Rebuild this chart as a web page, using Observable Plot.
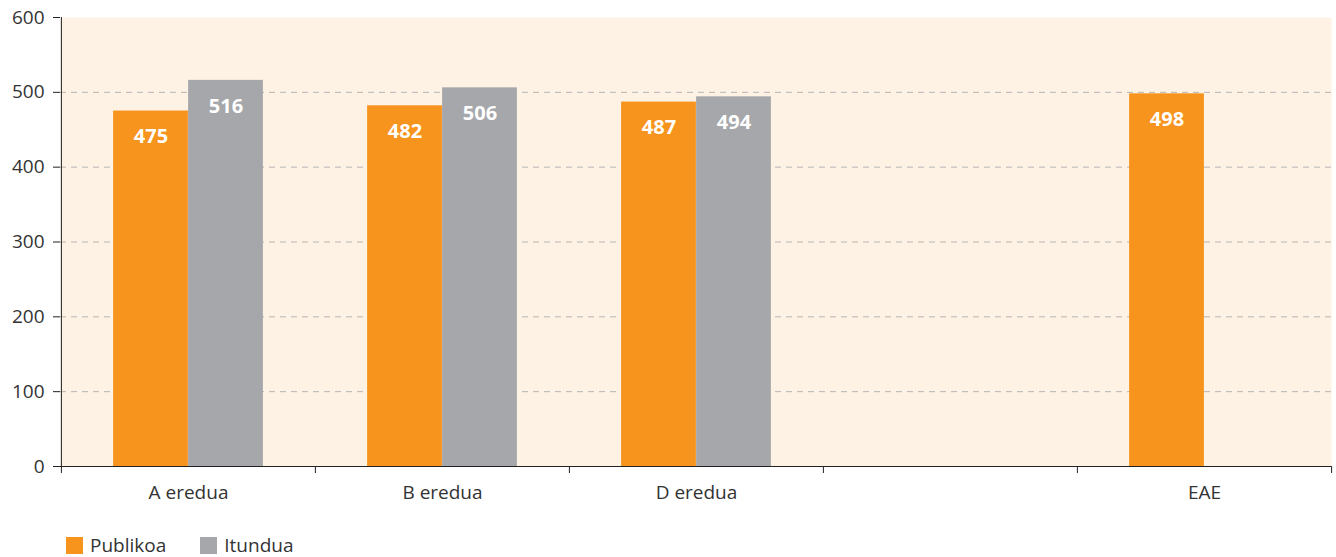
<!DOCTYPE html>
<html>
<head>
<meta charset="utf-8">
<script src="https://cdn.jsdelivr.net/npm/d3@7"></script>
<script src="https://cdn.jsdelivr.net/npm/@observablehq/plot@0.6"></script>
<style>
  html, body { margin: 0; padding: 0; background: #ffffff; }
  #legend { display: flex; align-items: center; margin-left: 66px; padding-top: 17px;
    font-family: "Open Sans", sans-serif; font-size: 19px; color: #333; }
  .sw { width: 17px; height: 17px; display: inline-block; margin-right: 7px; }
  .item { display: flex; align-items: center; margin-right: 34px; line-height: 17px; }
</style>
</head>
<body>
<div id="chart"></div>
<div id="legend"></div>
<script>
const categories = ["A eredua", "B eredua", "D eredua", "", "EAE"];
const publikoa = [475, 482, 487, null, 498];
const itundua = [516, 506, 494, null, null];
const seriesNames = ["Publikoa", "Itundua"];
const yTicks = [0, 100, 200, 300, 400, 500, 600];
const gridValues = [100, 200, 300, 400, 500];

const colors = { "Publikoa": "#F7941D", "Itundua": "#A6A7AA" };

const pubData = categories.map((c, i) => ({ cat: c, value: publikoa[i] })).filter(d => d.value != null);
const itData = categories.map((c, i) => ({ cat: c, value: itundua[i] })).filter(d => d.value != null);

const W = 1336, H = 520, mL = 60, mR = 5, mT = 17, mB = 54;
const band = (W - mL - mR) / categories.length;
const barW = band * 0.295;
const pad = (band - 2 * barW) / 2;

const chart = Plot.plot({
  width: W, height: H,
  marginLeft: mL, marginRight: mR, marginTop: mT, marginBottom: mB,
  x: { domain: categories, padding: 0, label: null },
  y: { domain: [0, 600], label: null },
  style: { fontFamily: "Open Sans, sans-serif", fontSize: "19px", color: "#333", background: "white" },
  marks: [
    Plot.frame({ fill: "#FEF2E4", stroke: null }),
    Plot.ruleY(gridValues, { stroke: "#b5b5b5", strokeDasharray: "6,5", strokeWidth: 1 }),
    Plot.barY(pubData, { x: "cat", y: "value", fill: colors["Publikoa"], insetLeft: pad, insetRight: pad + barW }),
    Plot.barY(itData, { x: "cat", y: "value", fill: colors["Itundua"], insetLeft: pad + barW, insetRight: pad }),
    Plot.text(pubData, { x: "cat", y: "value", text: d => String(d.value), dx: -barW / 2, dy: 26,
      fill: "white", fontWeight: "bold", fontSize: 20 }),
    Plot.text(itData, { x: "cat", y: "value", text: d => String(d.value), dx: barW / 2, dy: 26,
      fill: "white", fontWeight: "bold", fontSize: 20 }),
    Plot.ruleX([categories[0]], { dx: -band / 2, y1: 0, y2: 600, stroke: "#222" }),
    Plot.ruleY([0], { stroke: "#222" }),
    Plot.axisY({ ticks: yTicks, tickSize: 7, tickPadding: 9, stroke: "#222", fill: "#333", label: null }),
    Plot.axisX({ ticks: categories, tickSize: 7, tickFormat: () => "", dx: -band / 2, stroke: "#222", label: null }),
    Plot.axisX({ ticks: [categories[categories.length - 1]], tickSize: 7, tickFormat: () => "", dx: band / 2, stroke: "#222", label: null }),
    Plot.axisX({ tickSize: 0, tickPadding: 19, fill: "#333", label: null })
  ]
});
document.getElementById("chart").appendChild(chart);

const legend = document.getElementById("legend");
seriesNames.forEach(name => {
  const item = document.createElement("div");
  item.className = "item";
  const sw = document.createElement("span");
  sw.className = "sw";
  sw.style.background = colors[name];
  const t = document.createElement("span");
  t.textContent = name;
  item.appendChild(sw);
  item.appendChild(t);
  legend.appendChild(item);
});
</script>
</body>
</html>
